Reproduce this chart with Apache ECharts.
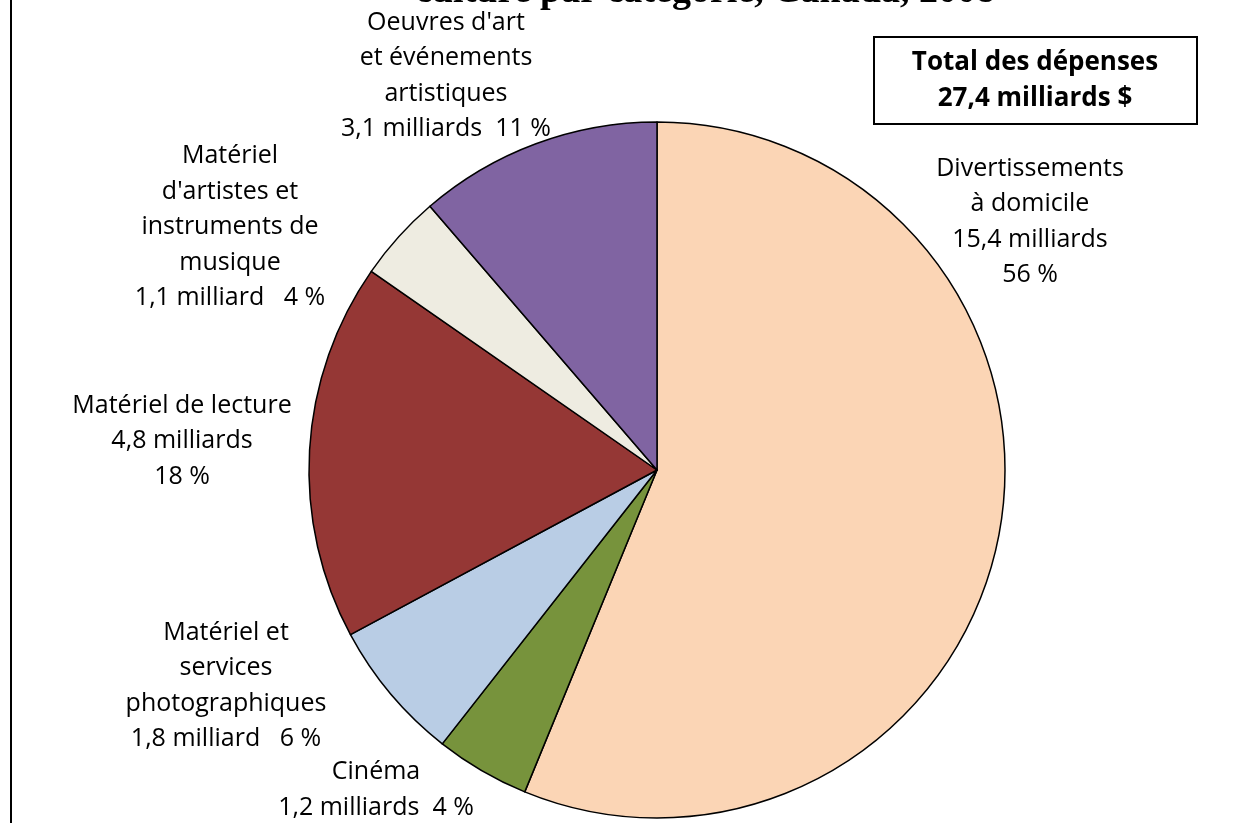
<!DOCTYPE html>
<html>
<head>
<meta charset="utf-8">
<script src="https://cdn.jsdelivr.net/npm/echarts@6/dist/echarts.min.js"></script>
<style>
  html, body { margin: 0; padding: 0; background: #fff; }
  #chart { width: 1248px; height: 823px; }
</style>
</head>
<body>
<div id="chart"></div>
<script>
// catégories, dans l'ordre horaire depuis midi
const categories = [
  "Divertissements à domicile",
  "Cinéma",
  "Matériel et services photographiques",
  "Matériel de lecture",
  "Matériel d'artistes et instruments de musique",
  "Oeuvres d'art et événements artistiques"
];
// dépenses en milliards $
const values = [15.4, 1.2, 1.8, 4.8, 1.1, 3.1];
const colors = ["#FBD5B5", "#77933C", "#B9CDE5", "#953735", "#EEECE1", "#8064A2"];
// textes des étiquettes
const labelTexts = [
  "Divertissements\nà domicile\n15,4 milliards\n56 %",
  "Cinéma\n1,2 milliards  4 %",
  "Matériel et\nservices\nphotographiques\n1,8 milliard   6 %",
  "Matériel de lecture\n4,8 milliards\n18 %",
  "Matériel\nd'artistes et\ninstruments de\nmusique\n1,1 milliard   4 %",
  "Oeuvres d'art\net événements\nartistiques\n3,1 milliards  11 %"
];
// centre des étiquettes
const labelPos = [
  [1030, 222], [376, 790], [226, 686], [182, 441], [230, 227], [446, 76]
];

const chart = echarts.init(document.getElementById("chart"));

const option = {
  animation: false,
  backgroundColor: "#fff",
  graphic: [
    {
      type: "text",
      x: 705,
      y: -8,
      style: {
        text: "culture par catégorie, Canada, 2008",
        font: "bold 38px 'Liberation Serif'",
        fill: "#000",
        align: "center",
        verticalAlign: "middle"
      }
    },
    {
      type: "line",
      shape: { x1: 11, y1: 0, x2: 11, y2: 823 },
      style: { stroke: "#000", lineWidth: 2 }
    },
    {
      type: "rect",
      shape: { x: 874, y: 37, width: 323, height: 87 },
      style: { fill: "#fff", stroke: "#000", lineWidth: 2 }
    },
    {
      type: "text",
      x: 1035,
      y: 81,
      style: {
        text: "Total des dépenses\n27,4 milliards $",
        font: "bold 26px 'Open Sans'",
        lineHeight: 36,
        fill: "#000",
        align: "center",
        verticalAlign: "middle"
      }
    }
  ],
  series: [
    {
      type: "pie",
      center: [657, 470],
      radius: 348,
      startAngle: 90,
      clockwise: true,
      silent: true,
      data: categories.map((name, i) => ({
        name: name,
        value: values[i],
        itemStyle: { color: colors[i] },
        label: { formatter: labelTexts[i] }
      })),
      itemStyle: { borderColor: "#000", borderWidth: 1.5 },
      label: {
        show: true,
        position: "outside",
        color: "#000",
        fontFamily: "Open Sans",
        fontSize: 25,
        lineHeight: 35.5,
        align: "center"
      },
      labelLine: { show: false },
      labelLayout: function (params) {
        const p = labelPos[params.dataIndex];
        return { x: p[0], y: p[1], align: "center", verticalAlign: "middle" };
      }
    }
  ]
};

chart.setOption(option);
</script>
</body>
</html>
